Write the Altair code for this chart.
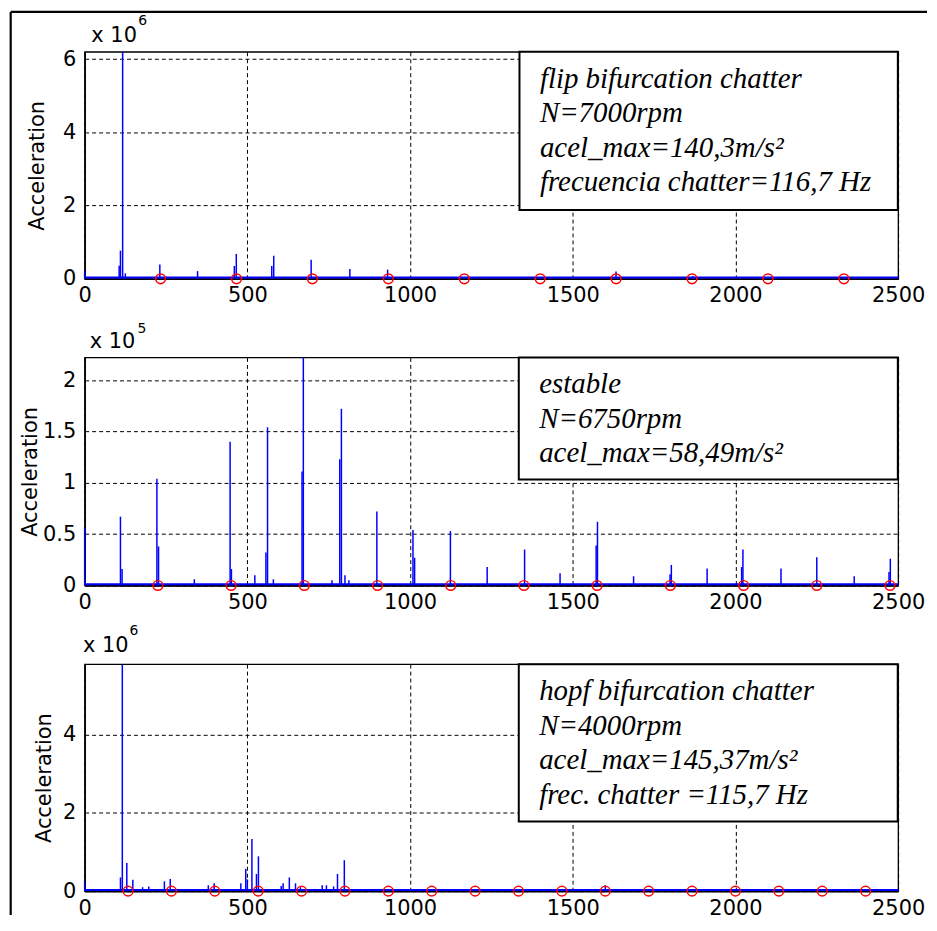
import altair as alt
import pandas as pd

# ---------------- data ----------------
freq_range = [0, 2500]
x_ticks = [0, 500, 1000, 1500, 2000, 2500]

# Panel 1: flip bifurcation chatter, amplitudes in units of 10^6
p1_freq = [0, 106, 110, 116.7, 125, 231, 347, 460, 466, 575, 581, 696, 815, 931, 1633, 1869]
p1_amp = [0.22, 0.36, 0.77, 6.2, 0.15, 0.39, 0.21, 0.35, 0.68, 0.35, 0.63, 0.52, 0.27, 0.25, 0.2, 0.08]
p1_tooth = [233.3, 466.7, 700.0, 933.3, 1166.7, 1400.0, 1633.3, 1866.7, 2100.0, 2333.3]
p1_yticks = [0, 2, 4, 6]
p1_text = ["flip bifurcation chatter", "N=7000rpm", "acel_max=140,3m/s²", "frecuencia chatter=116,7 Hz"]

# Panel 2: estable, amplitudes in units of 10^5
p2_freq = [0, 110, 115, 222, 227, 337, 447, 451, 523, 557, 562, 580, 668, 672, 760, 784, 789,
           800, 812, 898, 1009, 1014, 1124, 1237, 1352, 1461, 1572, 1576, 1687, 1799, 1803,
           1913, 2019, 2023, 2140, 2250, 2365, 2472, 2476]
p2_amp = [0.56, 0.67, 0.16, 1.04, 0.38, 0.06, 1.40, 0.16, 0.10, 0.32, 1.54, 0.06, 1.11, 2.22, 0.05, 1.23, 1.72,
          0.10, 0.05, 0.72, 0.54, 0.27, 0.53, 0.18, 0.35, 0.12, 0.39, 0.62, 0.09, 0.11, 0.20,
          0.165, 0.18, 0.35, 0.165, 0.275, 0.09, 0.13, 0.26]
p2_tooth = [225, 450, 675, 900, 1125, 1350, 1575, 1800, 2025, 2250, 2475]
p2_yticks = [0, 0.5, 1, 1.5, 2]
p2_text = ["estable", "N=6750rpm", "acel_max=58,49m/s²"]

# Panel 3: hopf bifurcation chatter, amplitudes in units of 10^6
p3_freq = [0, 110, 115.7, 129.5, 148, 178, 197, 245, 263, 362, 380, 398, 480, 495, 500, 514, 528, 534,
           561, 604, 610, 629, 648, 663, 730, 743, 765, 777, 798, 933, 1065, 1600]
p3_amp = [0.25, 0.35, 5.78, 0.72, 0.29, 0.10, 0.12, 0.25, 0.31, 0.05, 0.15, 0.20, 0.20, 0.57, 0.30, 1.33, 0.44, 0.89,
          0.05, 0.13, 0.20, 0.35, 0.20, 0.10, 0.15, 0.15, 0.12, 0.44, 0.79, 0.03, 0.05, 0.15]
p3_tooth = [133.3, 266.7, 400.0, 533.3, 666.7, 800.0, 933.3, 1066.7, 1200.0, 1333.3, 1466.7, 1600.0,
            1733.3, 1866.7, 2000.0, 2133.3, 2266.7, 2400.0]
p3_yticks = [0, 2, 4]
p3_text = ["hopf bifurcation chatter", "N=4000rpm", "acel_max=145,37m/s²", "frec. chatter =115,7 Hz"]

W = 817
BLUE = "#0000ff"
SERIF = "Times New Roman, Liberation Serif, serif"
one = pd.DataFrame({"k": [0]})


def panel(freq, amp, tooth, ymax, yticks, yfmt, height, title_x, exp, mult_pos, exp_pos,
          lines, box, frame=False):
    xs = alt.Scale(domain=freq_range, nice=False, zero=False)
    ys = alt.Scale(domain=[0, ymax], nice=False)
    df = pd.DataFrame({"f": freq, "a": amp})
    spikes = alt.Chart(df).mark_rule(color=BLUE, strokeWidth=1.5).encode(
        x=alt.X("f:Q", scale=xs,
                axis=alt.Axis(values=x_ticks, format="d", title=None, labelPadding=6)),
        y=alt.Y("a:Q", scale=ys,
                axis=alt.Axis(values=yticks, format=yfmt, title="Acceleration", titleX=title_x,
                              labelPadding=9)),
        y2=alt.datum(0),
    )
    base = alt.Chart(pd.DataFrame({"f": freq_range, "a": [0, 0]})).mark_line(
        color=BLUE, strokeWidth=2, yOffset=-1.2
    ).encode(x=alt.X("f:Q", scale=xs), y=alt.Y("a:Q", scale=ys))
    circles = alt.Chart(pd.DataFrame({"f": tooth, "a": [0] * len(tooth)})).mark_point(
        shape="circle", filled=False, color="red", size=95, strokeWidth=1.5, opacity=1
    ).encode(x=alt.X("f:Q", scale=xs), y=alt.Y("a:Q", scale=ys))
    rect = alt.Chart(one).mark_rect(fill="white", stroke="black", strokeWidth=2).encode(
        x=alt.value(box[0]), x2=alt.value(box[1]), y=alt.value(box[2]), y2=alt.value(box[3])
    )
    txt = alt.Chart(one).mark_text(
        text=lines, align="left", baseline="alphabetic", font=SERIF,
        fontStyle="italic", fontSize=29, lineHeight=34.7, color="black"
    ).encode(x=alt.value(box[0] + 20.5), y=alt.value(box[2] + 36))
    mult = alt.Chart(one).mark_text(
        text="x 10", align="left", baseline="alphabetic", font="DejaVu Sans", fontSize=21, color="black"
    ).encode(x=alt.value(mult_pos[0]), y=alt.value(mult_pos[1]))
    expo = alt.Chart(one).mark_text(
        text=exp, align="left", baseline="alphabetic", font="DejaVu Sans", fontSize=14, color="black"
    ).encode(x=alt.value(exp_pos[0]), y=alt.value(exp_pos[1]))
    layers = [spikes, base, circles, rect, txt, mult, expo]
    if frame:
        top = alt.Chart(one).mark_rule(color="black", strokeWidth=2.2).encode(
            x=alt.value(-74.3), x2=alt.value(846), y=alt.value(-40), y2=alt.value(-40))
        left = alt.Chart(one).mark_rule(color="black", strokeWidth=2.2).encode(
            x=alt.value(-74.3), x2=alt.value(-74.3), y=alt.value(-40), y2=alt.value(867))
        layers = [top, left] + layers
    return alt.layer(*layers).properties(width=W, height=height)


c1 = panel(p1_freq, p1_amp, p1_tooth, 6.2, p1_yticks, "d", 228, -37, "6",
           (6.7, -9.7), (53.7, -26.7), p1_text, (436.7, 816.7, 0, 159), frame=True)
c2 = panel(p2_freq, p2_amp, p2_tooth, 2.22, p2_yticks, ".1~f", 229, -44, "5",
           (5, -10), (53, -25), p2_text, (436, 816.7, 0, 122.6))
c3 = panel(p3_freq, p3_amp, p3_tooth, 5.8, p3_yticks, "d", 228, -30, "6",
           (-1.7, -12.3), (45, -29), p3_text, (436, 816.6, 0, 158))

chart = alt.vconcat(c1, c2, c3, spacing=79, bounds="flush").properties(
    padding=0, background="white"
).configure_view(
    stroke="black", strokeWidth=1.3
).configure_axis(
    grid=True, gridDash=[4, 3], gridColor="black", gridOpacity=1, gridWidth=1,
    ticks=False, domainColor="black", domainWidth=1.5, labelFlush=False,
    labelFont="DejaVu Sans", labelFontSize=21, labelColor="black",
    titleFont="DejaVu Sans", titleFontSize=21, titleFontWeight="normal", titleColor="black",
    titleBaseline="bottom",
)

chart.save("out.html", embed_options={"renderer": "svg", "actions": False})
